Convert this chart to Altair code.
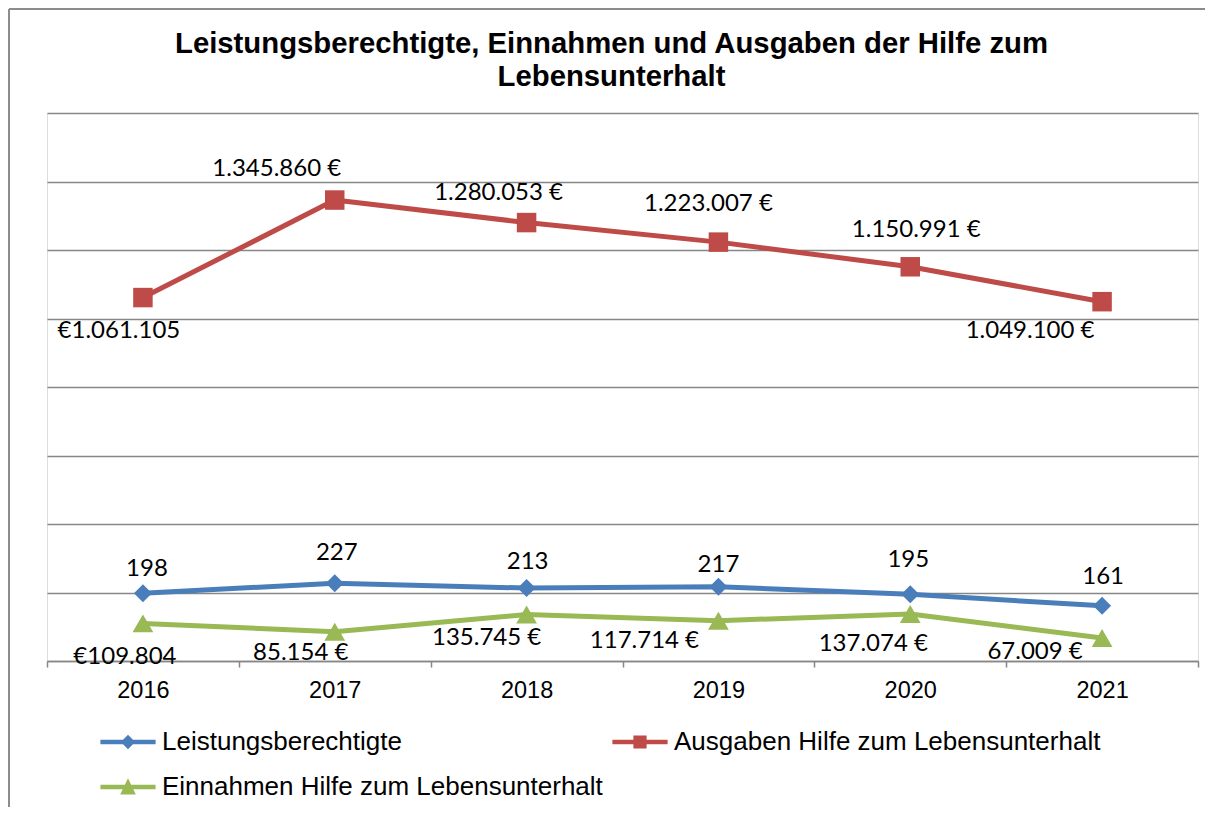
import altair as alt
import pandas as pd

# ---- data -------------------------------------------------------------
years = ["2016", "2017", "2018", "2019", "2020", "2021"]
leistungsberechtigte = [198, 227, 213, 217, 195, 161]
ausgaben = [1061105, 1345860, 1280053, 1223007, 1150991, 1049100]
einnahmen = [109804, 85154, 135745, 117714, 137074, 67009]

series_names = [
    "Leistungsberechtigte",
    "Ausgaben Hilfe zum Lebensunterhalt",
    "Einnahmen Hilfe zum Lebensunterhalt",
]
series_values = [leistungsberechtigte, ausgaben, einnahmen]
# the count series is drawn on the same axis in thousands
series_factor = [1000, 1, 1]
euro_prefix_years = ["2016"]

title_lines = [
    "Leistungsberechtigte, Einnahmen und Ausgaben der Hilfe zum",
    "Lebensunterhalt",
]

# ---- styles -------------------------------------------------------------
colors = ["#4A7EBB", "#BE4B48", "#98B954"]
marker_shapes = ["diamond", "square", "triangle-up"]
marker_sizes = [324, 380, 430]
legend_paths = [
    "M-4.6,-0.38 L4.6,-0.38 L4.6,0.38 L-4.6,0.38 Z M0,-1.2 L1.2,0 L0,1.2 L-1.2,0 Z",
    "M-4.6,-0.38 L4.6,-0.38 L4.6,0.38 L-4.6,0.38 Z M-1.1,-1.1 L1.1,-1.1 L1.1,1.1 L-1.1,1.1 Z",
    "M-4.6,-0.38 L4.6,-0.38 L4.6,0.38 L-4.6,0.38 Z M0,-1.45 L1.3,1.25 L-1.3,1.25 Z",
]
# legend fills column by column: order so that rows read L, A / E
legend_order = [0, 2, 1]
label_offsets = {
    "Leistungsberechtigte": [(4, -24), (2, -30), (1, -26), (0, -22), (-2, -34), (1, -29)],
    "Ausgaben Hilfe zum Lebensunterhalt": [(-24, 33), (-58, -31), (-28, -30), (-10, -38), (6, -37), (-72, 29)],
    "Einnahmen Hilfe zum Lebensunterhalt": [(-18, 34), (-34, 21), (-40, 23), (-74, 20), (-37, 30), (-67, 14)],
}
GRID = "#878787"


def de_num(v):
    return f"{v:,}".replace(",", ".")


rows = []
for name, vals, fac in zip(series_names, series_values, series_factor):
    for yr, v in zip(years, vals):
        if fac != 1:
            lab = str(v)
        elif yr in euro_prefix_years:
            lab = "€" + de_num(v)
        else:
            lab = de_num(v) + " €"
        rows.append({"year": yr, "series": name, "value": v, "plot": v * fac, "label": lab})
df = pd.DataFrame(rows)

x_enc = alt.X(
    "year:N",
    sort=years,
    scale=alt.Scale(paddingInner=0, paddingOuter=0),
    axis=alt.Axis(
        title=None, labelAngle=0, labelFont="Liberation Sans", labelFontSize=23.5,
        labelColor="black", labelPadding=11, tickBand="extent", tickSize=6,
        tickColor=GRID, tickWidth=1.5, domainColor=GRID, domainWidth=1.5, grid=False,
    ),
)
y_enc = alt.Y(
    "plot:Q",
    scale=alt.Scale(domain=[0, 1600000], nice=False, zero=True),
    axis=alt.Axis(
        title=None, labels=False, ticks=False, domain=False, grid=True,
        gridColor=GRID, gridWidth=1.5, values=list(range(0, 1600001, 200000)),
    ),
)

base = alt.Chart(df).encode(x=x_enc, y=y_enc)

layers = []

# outer frame (left and top edges visible)
layers.append(
    alt.Chart(df).mark_rule(color="#8c8c8c", strokeWidth=2).encode(
        x=alt.value(-38), y=alt.value(-104), y2=alt.value(700)
    )
)
layers.append(
    alt.Chart(df).mark_rule(color="#8c8c8c", strokeWidth=2).encode(
        x=alt.value(-38), x2=alt.value(1160), y=alt.value(-104)
    )
)

# chart title
layers.append(
    alt.Chart(df).transform_filter(alt.datum.year == years[0]).transform_filter(
        alt.datum.series == series_names[0]
    ).mark_text(
        text=title_lines, font="Liberation Sans", fontSize=29.3, fontWeight="bold",
        color="black", align="center", baseline="alphabetic", lineHeight=33,
    ).encode(x=alt.value(564.5), y=alt.value(-60))
)

for name, c in zip(series_names, colors):
    layers.append(
        base.transform_filter(alt.datum.series == name).mark_line(
            color=c, strokeWidth=5, strokeJoin="round"
        )
    )
for name, c, shp, sz in zip(series_names, colors, marker_shapes, marker_sizes):
    layers.append(
        base.transform_filter(alt.datum.series == name).mark_point(
            filled=True, opacity=1, color=c, shape=shp, size=sz
        )
    )

# legend-only layer (no visible data)
leg_domain = [series_names[i] for i in legend_order]
leg_colors = [colors[i] for i in legend_order]
leg_paths = [legend_paths[i] for i in legend_order]
leg = alt.Legend(
    title=None, orient="none", legendX=68, legendY=616, columns=2,
    columnPadding=9, rowPadding=19, labelFont="Liberation Sans",
    labelFontSize=26, labelColor="black", labelLimit=800, labelOffset=21,
    symbolSize=144, symbolStrokeWidth=0, padding=0,
)
layers.append(
    base.transform_filter("datum.value < 0").mark_point(filled=True, opacity=1, size=144).encode(
        color=alt.Color("series:N", scale=alt.Scale(domain=leg_domain, range=leg_colors), legend=leg),
        shape=alt.Shape("series:N", scale=alt.Scale(domain=leg_domain, range=leg_paths), legend=leg),
    )
)

for name in series_names:
    for yr, (dx, dy) in zip(years, label_offsets[name]):
        layers.append(
            base.transform_filter((alt.datum.series == name) & (alt.datum.year == yr))
            .mark_text(font="Lato", fontSize=24, color="black", dx=dx, dy=dy)
            .encode(text="label:N")
        )

chart = (
    alt.layer(*layers)
    .properties(
        width=1151,
        height=548,
        autosize=alt.AutoSizeParams(type="none"),
        padding={"left": 39, "top": 105, "right": 7, "bottom": 146},
    )
    .configure_view(stroke=None)
    .configure(background="white")
)

chart.save("out.html", embed_options={"renderer": "svg", "actions": False})
